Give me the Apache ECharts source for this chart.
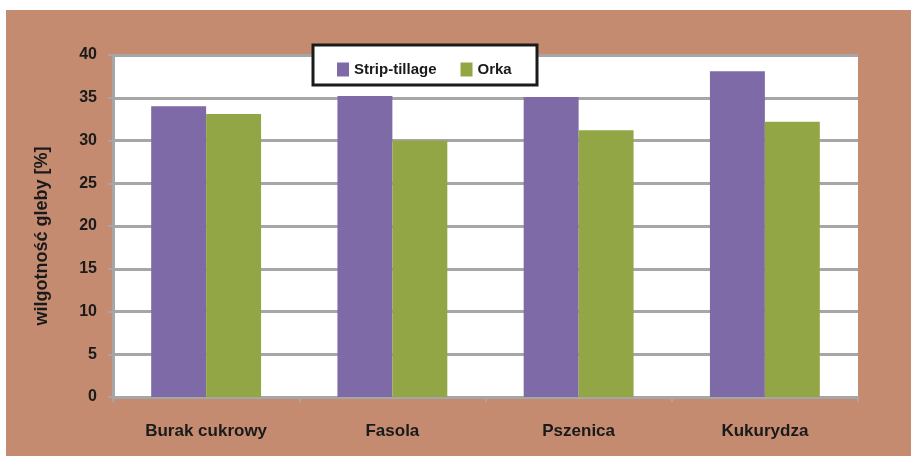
<!DOCTYPE html>
<html>
<head>
<meta charset="utf-8">
<style>
  html, body { margin: 0; padding: 0; background: #fff; }
  #main { width: 911px; height: 456px; }
</style>
<script src="https://cdn.jsdelivr.net/npm/echarts@6/dist/echarts.min.js"></script>
</head>
<body>
<div id="main"></div>
<script>
  const categories = ['Burak cukrowy', 'Fasola', 'Pszenica', 'Kukurydza']
  const stripTillage = [34, 35.2, 35.1, 38.1]
  const orka = [33.1, 30, 31.2, 32.2]
  const yTicks = { min: 0, max: 40, interval: 5 }

  const chart = echarts.init(document.getElementById('main'))
  const font = { fontFamily: 'Liberation Sans', fontWeight: 'bold', fontSize: 16, color: '#1a1a1a' }

  const option = {
    backgroundColor: '#ffffff',
    animation: false,
    graphic: [
      { type: 'rect', z: -10, shape: { x: 6, y: 10, width: 905, height: 446 }, style: { fill: '#c48b70' } },
      { type: 'rect', z: 10, shape: { x: 313, y: 45, width: 224, height: 40 },
        style: { fill: '#fff', stroke: '#1a1a1a', lineWidth: 3 } }
    ],
    legend: {
      left: 332,
      top: 57,
      z: 20,
      icon: 'rect',
      itemWidth: 12,
      itemHeight: 14,
      itemGap: 24,
      textStyle: Object.assign({}, font, { fontSize: 15 }),
      data: ['Strip-tillage', 'Orka']
    },
    grid: {
      left: 113, right: 53, top: 55, bottom: 59,
      show: true, backgroundColor: '#fff', borderWidth: 0
    },
    xAxis: {
      type: 'category',
      data: categories,
      axisLine: { lineStyle: { color: '#a6a6a6', width: 3 } },
      axisTick: { show: true, length: 5, lineStyle: { color: '#a6a6a6', width: 2 } },
      axisLabel: Object.assign({}, font, { margin: 26, fontSize: 17 })
    },
    yAxis: {
      type: 'value',
      min: yTicks.min,
      max: yTicks.max,
      interval: yTicks.interval,
      name: 'wilgotność gleby [%]',
      nameLocation: 'middle',
      nameGap: 62,
      nameTextStyle: Object.assign({}, font, { fontSize: 18, padding: [0, 0, 0, -20] }),
      axisLine: { show: true, lineStyle: { color: '#a6a6a6', width: 3 } },
      axisTick: { show: true, length: 5, lineStyle: { color: '#a6a6a6', width: 2 } },
      axisLabel: Object.assign({}, font, { margin: 16 }),
      splitLine: { lineStyle: { color: '#a6a6a6', width: 3 } }
    },
    series: [
      {
        name: 'Strip-tillage',
        type: 'bar',
        data: stripTillage,
        barGap: '0%',
        barCategoryGap: '41%',
        itemStyle: { color: '#7e6aa6' }
      },
      {
        name: 'Orka',
        type: 'bar',
        data: orka,
        itemStyle: { color: '#93a646' }
      }
    ]
  }

  chart.setOption(option)
</script>
</body>
</html>
